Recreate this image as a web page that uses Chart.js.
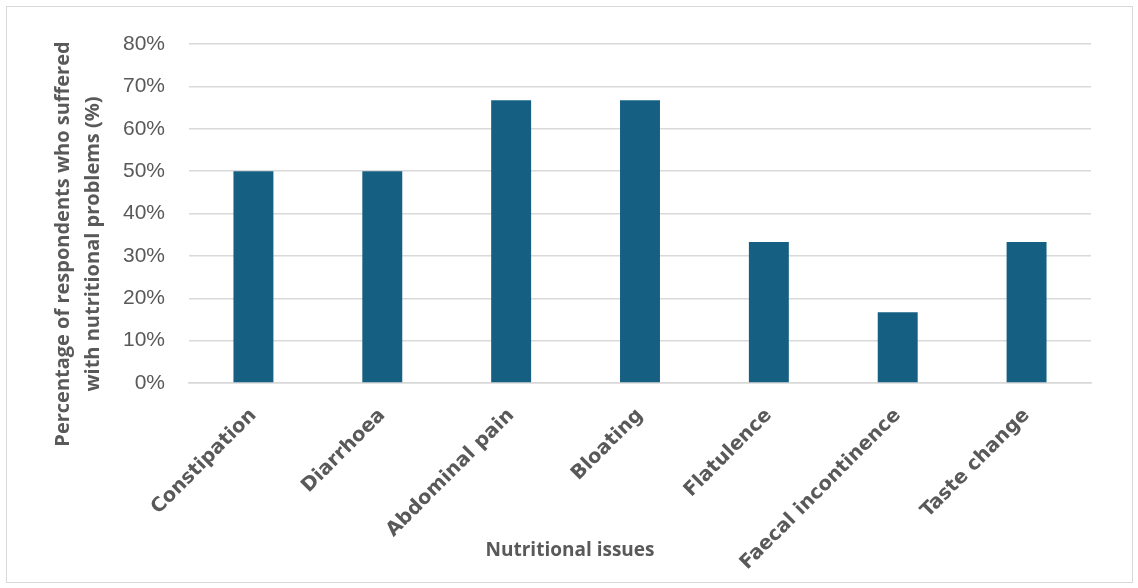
<!DOCTYPE html>
<html>
<head>
    <title>Nutritional issues</title>
    <script src="https://cdn.jsdelivr.net/npm/chart.js"></script>
    <style>
      body { margin: 0; background: #fff; }
      #wrap { width: 1138px; height: 588px; }
    </style>
</head>
<body>
    <div id="wrap"><canvas id="issuesChart"></canvas></div>

    <script>
    const issues = ['Constipation', 'Diarrhoea', 'Abdominal pain', 'Bloating', 'Flatulence', 'Faecal incontinence', 'Taste change'];
    const percentSuffered = [50, 50, 66.7, 66.7, 33.3, 16.7, 33.3];
    const yTicks = [0, 10, 20, 30, 40, 50, 60, 70, 80];

    const textGrey = '#595959';

    // outer frame plus the two axis titles, placed by hand
    const frameAndTitles = {
      id: 'frameAndTitles',
      beforeDraw(chart) {
        const ctx = chart.ctx;
        ctx.save();
        ctx.strokeStyle = '#d9d9d9';
        ctx.lineWidth = 1;
        ctx.strokeRect(6.5, 6.5, 1126, 576);
        ctx.restore();
      },
      afterDraw(chart) {
        const ctx = chart.ctx;
        ctx.save();
        ctx.fillStyle = textGrey;
        ctx.textAlign = 'center';
        ctx.textBaseline = 'middle';
        ctx.font = 'bold 19px "Open Sans"';
        ctx.fillText('Nutritional issues', 570, 551);
        ctx.translate(78, 244);
        ctx.rotate(-Math.PI / 2);
        ctx.font = 'bold 20px "Open Sans"';
        ctx.fillText('Percentage of respondents who suffered', 0, -15);
        ctx.fillText('with nutritional problems (%)', 0, 15);
        ctx.restore();
      }
    };

    new Chart(document.getElementById('issuesChart'), {
      type: 'bar',
      data: {
        labels: issues,
        datasets: [{
          label: 'Respondents (%)',
          data: percentSuffered,
          backgroundColor: '#156082',
          categoryPercentage: 1,
          barPercentage: 0.31
        }]
      },
      options: {
        responsive: true,
        maintainAspectRatio: false,
        animation: false,
        layout: { padding: { left: 100, right: 47, top: 44, bottom: 0 } },
        plugins: {
          legend: { display: false },
          tooltip: { enabled: false }
        },
        scales: {
          x: {
            afterFit: s => { s.height = 205; },
            grid: { display: false },
            border: { color: '#d9d9d9', width: 1.5 },
            ticks: {
              color: textGrey,
              font: { family: 'DejaVu Sans', size: 19.5, weight: 'bold' },
              minRotation: 45,
              maxRotation: 45,
              padding: 13
            }
          },
          y: {
            min: 0,
            max: 80,
            afterFit: s => { s.width = 89; },
            afterBuildTicks: s => { s.ticks = yTicks.map(v => ({ value: v })); },
            grid: { color: '#d9d9d9', lineWidth: 1.5, drawTicks: false },
            border: { display: false },
            ticks: {
              color: textGrey,
              padding: 24,
              font: { family: 'Liberation Sans', size: 21 },
              callback: v => v + '%'
            }
          }
        }
      },
      plugins: [frameAndTitles]
    });
    </script>
</body>
</html>
